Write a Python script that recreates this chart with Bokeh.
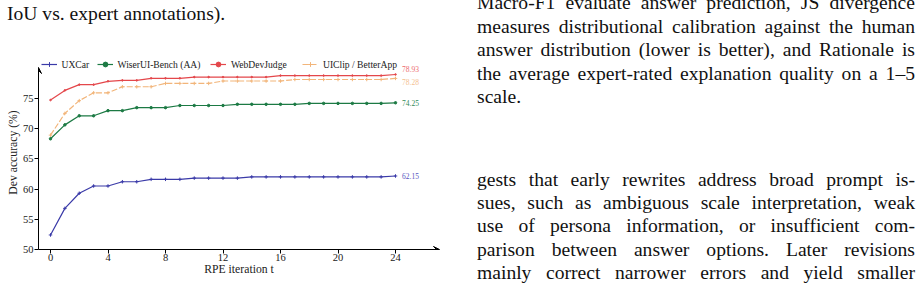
from bokeh.plotting import figure
from bokeh.models import Legend, LegendItem, Label, Arrow, VeeHead, FixedTicker, Range1d, Div
from bokeh.layouts import row, column
from bokeh.embed import file_html
from bokeh.resources import INLINE

# ---------------- data ----------------
iterations = list(range(25))
uxcar = [52.4, 56.8, 59.3, 60.5, 60.5, 61.2, 61.2, 61.6, 61.6, 61.6, 61.8, 61.8, 61.8,
         61.8, 62.0, 62.0, 62.0, 62.0, 62.0, 62.0, 62.0, 62.0, 62.0, 62.0, 62.15]
wiser = [68.3, 70.6, 72.1, 72.1, 72.95, 72.95, 73.45, 73.45, 73.45, 73.8, 73.8, 73.8, 73.8,
         74.0, 74.0, 74.0, 74.0, 74.0, 74.15, 74.15, 74.15, 74.15, 74.15, 74.15, 74.25]
webdev = [74.7, 76.3, 77.25, 77.25, 77.8, 77.95, 77.95, 78.3, 78.3, 78.3, 78.5, 78.5, 78.5,
          78.5, 78.5, 78.5, 78.75, 78.75, 78.75, 78.75, 78.75, 78.75, 78.75, 78.75, 78.93]
uiclip = [68.9, 72.5, 74.6, 75.9, 75.9, 76.9, 76.9, 76.9, 77.45, 77.45, 77.45, 77.45, 77.85,
          77.85, 77.85, 77.85, 77.85, 78.1, 78.1, 78.1, 78.1, 78.1, 78.1, 78.1, 78.28]
series_names = ["UXCar", "WiserUI-Bench (AA)", "WebDevJudge", "UIClip / BetterApp"]
final_labels = ["62.15", "74.25", "78.93", "78.28"]
x_ticks = [0, 4, 8, 12, 16, 20, 24]
y_ticks = [50, 55, 60, 65, 70, 75]
x_label = "RPE iteration t"
y_label = "Dev accuracy (%)"

left_text = ["IoU vs. expert annotations)."]
right_para1 = [
    "Macro-F1 evaluate answer prediction, JS divergence",
    "measures distributional calibration against the human",
    "answer distribution (lower is better), and Rationale is",
    "the average expert-rated explanation quality on a 1\u20135",
    "scale.",
]
right_para2 = [
    "gests that early rewrites address broad prompt is-",
    "sues, such as ambiguous scale interpretation, weak",
    "use of persona information, or insufficient com-",
    "parison between answer options. Later revisions",
    "mainly correct narrower errors and yield smaller",
]

# ---------------- layout constants ----------------
W, H = 923, 301
LEFT_W = 440
TOP_H = 50
P_H = H - TOP_H
FL, FR, FT, FB = 38, 439, 55, 249      # frame edges in page px
PX_X = 14.375                          # px per iteration
PX_Y = 6.05                            # px per accuracy point
x_lo = (FL - 50) / PX_X
x_hi = x_lo + (FR - FL) / PX_X
y_lo = 50.0
y_hi = y_lo + (FB - FT) / PX_Y
y_tip = y_lo + (FB - 67) / PX_Y

SERIF = "Liberation Serif"
colors = ["#3a3aa8", "#1c7a44", "#e4474b", "#f2b57a"]
label_colors = ["#5555c0", "#2e8a55", "#ec6a6d", "#f4c08f"]
markers = ["cross", "circle", "circle", "cross"]
marker_sizes = [3.5, 2.5, 1.6, 3.5]
dashes = ["solid", "solid", "solid", "6 2"]
label_dy = [0, 0, 5, -4]

p = figure(width=LEFT_W, height=P_H, output_backend="svg", toolbar_location=None,
           x_range=Range1d(x_lo, x_hi), y_range=Range1d(y_lo, y_hi),
           min_border_left=FL, min_border_right=LEFT_W - FR,
           min_border_top=FT - TOP_H, min_border_bottom=H - FB)
p.outline_line_color = None
p.xgrid.visible = False
p.ygrid.visible = False
p.background_fill_color = "white"
p.border_fill_color = "white"

for ax in (p.xaxis[0], p.yaxis[0]):
    ax.axis_line_color = "black"
    ax.axis_line_width = 1
    ax.major_tick_out = 4
    ax.major_tick_in = 0
    ax.minor_tick_line_color = None
    ax.major_label_text_font = SERIF
    ax.major_label_text_font_size = "10.5px"
    ax.major_label_text_color = "#222"
    ax.axis_label_text_font = SERIF
    ax.axis_label_text_font_size = "11.7px"
    ax.axis_label_text_font_style = "normal"
    ax.axis_label_text_color = "#222"
p.xaxis.ticker = FixedTicker(ticks=x_ticks)
p.yaxis.ticker = FixedTicker(ticks=y_ticks)
p.xaxis.axis_label = x_label
p.yaxis.axis_label = y_label
p.xaxis.major_label_standoff = 0
p.yaxis.major_label_standoff = 1
p.xaxis.axis_label_standoff = -1
p.yaxis.axis_label_standoff = 0
p.yaxis.bounds = (y_lo, y_tip)

# axis arrows
p.add_layout(Arrow(x_start=x_hi - 0.3, x_end=x_hi, y_start=y_lo, y_end=y_lo,
                   line_width=1, end=VeeHead(size=6, fill_color="black", line_color="black")))
p.add_layout(Arrow(x_start=x_lo, x_end=x_lo, y_start=y_tip - 0.5, y_end=y_tip,
                   line_width=1, end=VeeHead(size=6, fill_color="black", line_color="black")))

all_series = [uxcar, wiser, webdev, uiclip]
legend_x = [40.5, 96.5, 210, 302]
for i, ys in enumerate(all_series):
    lr = p.line(iterations, ys, line_color=colors[i], line_width=1.2, line_dash=dashes[i])
    sr = p.scatter(iterations, ys, marker=markers[i], size=marker_sizes[i],
                   line_color=colors[i], fill_color=colors[i], line_width=1)
    leg = Legend(items=[LegendItem(label=series_names[i], renderers=[lr, sr])],
                 location=(legend_x[i] - FL, FB - 70), orientation="horizontal",
                 padding=0, margin=0, spacing=0, glyph_width=16, glyph_height=12,
                 label_standoff=5, label_text_font=SERIF, label_text_font_size="9.6px",
                 label_text_color="#222", label_height=12,
                 border_line_color=None, background_fill_alpha=0)
    p.add_layout(leg)
    p.add_layout(Label(x=iterations[-1], y=ys[-1], text=final_labels[i], x_offset=6.5,
                       y_offset=label_dy[i], text_baseline="middle",
                       text_font=SERIF, text_font_size="7.5px", text_color=label_colors[i]))

# ---------------- surrounding page text ----------------
FS = 19.6      # page font size
LH = 23.5      # line height
BASE = (LH - 1.107 * FS) / 2 + 0.891 * FS   # baseline offset inside the line box


def lines_html(lines, x0, baseline0, step, width, justify_last):
    out = []
    for k, t in enumerate(lines):
        top = baseline0 + k * step - BASE
        just = "justify" if (k < len(lines) - 1 or justify_last) else "left"
        out.append(
            f'<div style="position:absolute;left:{x0}px;top:{top:.1f}px;width:{width}px;'
            f'height:{LH}px;line-height:{LH}px;white-space:nowrap;text-align:justify;'
            f'text-align-last:{just};">{t}</div>')
    return "".join(out)


def box(inner, w, h):
    return (f'<div style="position:relative;width:{w}px;height:{h}px;overflow:hidden;'
            f'font-family:\'{SERIF}\',serif;font-size:{FS}px;color:#111;">{inner}</div>')


top_div = Div(text=box(lines_html(left_text, 7, 20, LH, 420, False), LEFT_W, TOP_H),
              width=LEFT_W, height=TOP_H, margin=0)
right_inner = (lines_html(right_para1, 477 - LEFT_W, 9.5, 23.5, 438, False)
               + lines_html(right_para2, 477 - LEFT_W, 186, 23.3, 438, True))
right_div = Div(text=box(right_inner, W - LEFT_W, H), width=W - LEFT_W, height=H, margin=0)
p.margin = 0

layout = row(column(top_div, p, spacing=0, margin=0), right_div, spacing=0, margin=0)

open("out.html", "w").write(file_html(layout, INLINE))
